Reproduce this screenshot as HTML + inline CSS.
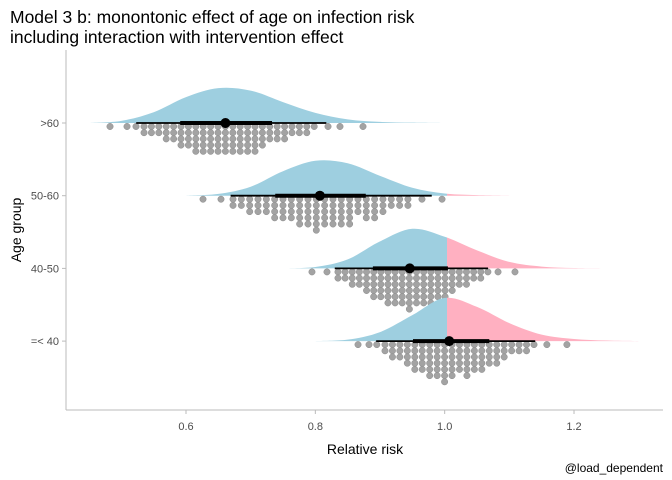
<!DOCTYPE html>
<html><head><meta charset="utf-8"><style>
body{margin:0;background:#fff}
svg{display:block;font-family:"Liberation Sans",Arial,sans-serif}
</style></head><body>
<svg id="chart" width="672" height="480">
<text x="10" y="23" font-size="17.5" fill="#000">Model 3 b: monontonic effect of age on infection risk</text>
<text x="10" y="43" font-size="17.5" fill="#000">including interaction with intervention effect</text>
<text transform="translate(21,230) rotate(-90)" text-anchor="middle" font-size="14">Age group</text>
<text x="365" y="454" text-anchor="middle" font-size="14">Relative risk</text>
<text x="663" y="472" text-anchor="end" font-size="12">@load_dependent</text>
<defs>
<clipPath id="clipL"><rect x="0" y="0" width="447" height="480"/></clipPath>
<clipPath id="clipR"><rect x="447" y="0" width="300" height="480"/></clipPath>
</defs>
<g id="plot"></g>
<line x1="66" y1="50" x2="66" y2="410" stroke="#bbb" stroke-width="1"/>
<line x1="66" y1="410" x2="663" y2="410" stroke="#bbb" stroke-width="1"/>
</svg>
<script>
const groups = [">60","50-60","40-50","=< 40"];
const xTicks = [0.6,0.8,1.0,1.2];
const xTickLabels = ["0.6","0.8","1.0","1.2"];
// densities
const densX60 = [0.45,0.50,0.55,0.60,0.65,0.70,0.75,0.80,0.85,0.90,0.95,1.0];
const densY60 = [0,0.06,0.3,0.72,0.97,0.9,0.58,0.28,0.1,0.03,0.01,0];
const densX5060 = [0.60,0.65,0.70,0.75,0.80,0.85,0.90,0.95,1.00,1.05,1.10];
const densY5060 = [0,0.05,0.25,0.68,0.97,0.9,0.55,0.22,0.06,0.015,0];
const densX4050 = [0.75,0.80,0.85,0.90,0.95,1.00,1.05,1.10,1.15,1.20,1.25];
const densY4050 = [0,0.04,0.25,0.75,1.1,0.88,0.5,0.18,0.05,0.01,0];
const densX40 = [0.80,0.85,0.90,0.95,1.00,1.05,1.10,1.15,1.20,1.25,1.30];
const densY40 = [0,0.04,0.25,0.72,1.2,0.95,0.5,0.18,0.06,0.015,0];
// intervals [thinLo, thickLo, median, thickHi, thinHi]
const interval60 = [0.523,0.591,0.661,0.733,0.817];
const interval5060 = [0.669,0.738,0.807,0.878,0.98];
const interval4050 = [0.830,0.889,0.946,1.005,1.067];
const interval40 = [0.894,0.951,1.007,1.069,1.14];
// dotplot bins
const binStart = [0.5351,0.6727,0.8350,0.9077];
const binWidth = [0.01144,0.01288,0.01104,0.01152];
const counts60 = [2,2,2,3,3,4,4,5,5,5,5,5,5,5,5,5,4,3,3,3,2,2,2,1];
const counts5060 = [2,2,3,3,3,4,4,4,5,5,6,5,5,5,5,3,4,4,3,2,2,2];
const counts4050 = [2,2,3,3,4,5,5,6,6,6,7,6,6,6,5,5,4,3,3,2,2,1];
const counts40 = [2,3,3,4,5,5,6,6,7,6,5,6,5,5,4,4,3,2,2,2,1];
const outliers60 = [0.4825,0.5088,0.5227,0.8196,0.8381,0.8737];
const outliers5060 = [0.6263,0.6541,0.9649,0.9959];
const outliers4050 = [0.7948,0.8180,1.0825,1.1087];
const outliers40 = [0.866,0.883,0.895,1.158,1.189];

const densX=[densX60,densX5060,densX4050,densX40], densY=[densY60,densY5060,densY4050,densY40];
const intervals=[interval60,interval5060,interval4050,interval40];
const counts=[counts60,counts5060,counts4050,counts40];
const outliers=[outliers60,outliers5060,outliers4050,outliers40];

const NS="http://www.w3.org/2000/svg";
const xS = v => 186 + (v-0.6)*646.7;
const yBase = i => 123 + i*72.7;
const dScale = 36;
const plot = document.getElementById('plot');
function mk(tag, attrs, parent){const e=document.createElementNS(NS,tag);for(const k in attrs)e.setAttribute(k,attrs[k]);(parent||plot).appendChild(e);return e;}

xTicks.forEach((t,i)=>{
  const l=mk('line',{x1:xS(t),x2:xS(t),y1:410,y2:414,stroke:'#bbb'});
  
  
  const tx=mk('text',{x:xS(t),y:430,'text-anchor':'middle','font-size':11,fill:'#4d4d4d'});
  tx.textContent=xTickLabels[i];
  
  
});
groups.forEach((g,i)=>{
  const y=yBase(i);
  const l=mk('line',{x1:62,x2:66,y1:y,y2:y,stroke:'#bbb'});
  
  
  const tx=mk('text',{x:59,y:y+4,'text-anchor':'end','font-size':11,fill:'#4d4d4d'});
  tx.textContent=g;
  
  
});

function curvePath(pts){
  let d=`M${pts[0][0]},${pts[0][1]}`;
  for(let i=0;i<pts.length-1;i++){
    const p0=pts[Math.max(0,i-1)],p1=pts[i],p2=pts[i+1],p3=pts[Math.min(pts.length-1,i+2)];
    const c1=[p1[0]+(p2[0]-p0[0])/6,Math.min(p1[1]+(p2[1]-p0[1])/6,Math.max(p1[1],p2[1]))];
    const c2=[p2[0]-(p3[0]-p1[0])/6,Math.min(p2[1]-(p3[1]-p1[1])/6,Math.max(p1[1],p2[1]))];
    d+=`C${c1[0]},${c1[1]} ${c2[0]},${c2[1]} ${p2[0]},${p2[1]}`;
  }
  return d;
}

groups.forEach((g,i)=>{
  const yb=yBase(i);
  const pts=densX[i].map((x,j)=>[xS(x),yb-densY[i][j]*dScale]);
  const d=curvePath(pts)+`L${pts[pts.length-1][0]},${yb}L${pts[0][0]},${yb}Z`;
  const left=mk('path',{d:d,fill:'#9ecfe0','clip-path':'url(#clipL)'});
  
  
  const right=mk('path',{d:d,fill:'#ffb0c1','clip-path':'url(#clipR)'});
  
  
  const c=counts[i];
  c.forEach((n,k)=>{
    const cx=xS(binStart[i]+k*binWidth[i]);
    for(let r=0;r<n;r++){
      const dot=mk('circle',{cx:cx,cy:yb+3.5+r*6.2,r:3.2,fill:'#a3a3a3',stroke:'#8c8c8c','stroke-width':0.5});
      
      
    }
  });
  outliers[i].forEach(v=>{
    const dot=mk('circle',{cx:xS(v),cy:yb+3.5,r:3.2,fill:'#a3a3a3',stroke:'#8c8c8c','stroke-width':0.5});
    
    
  });
  const iv=intervals[i];
  const thin=mk('line',{x1:xS(iv[0]),x2:xS(iv[4]),y1:yb,y2:yb,stroke:'#000','stroke-width':1.8});
  
  
  const thick=mk('line',{x1:xS(iv[1]),x2:xS(iv[3]),y1:yb,y2:yb,stroke:'#000','stroke-width':4});
  
  
  const pt=mk('circle',{cx:xS(iv[2]),cy:yb,r:5,fill:'#000'});
  
  
});
</script>
</body></html>
